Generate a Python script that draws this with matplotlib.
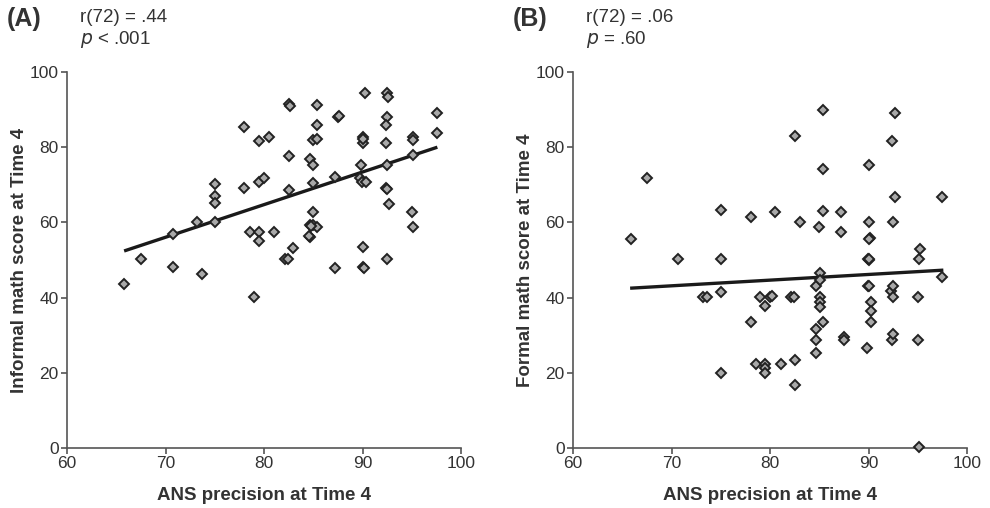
import numpy as np
import matplotlib.pyplot as plt

plt.rcParams['font.family'] = ['Liberation Sans', 'DejaVu Sans']

# ---- data ----
# (A) informal math vs ANS precision
ans_a = [65.8, 67.5, 70.8, 70.8, 73.2, 73.7, 75.0, 75.0, 75.0, 75.0,
         78.0, 78.0, 78.6, 79.0, 79.5, 79.5, 79.5, 79.5, 80.0, 80.5,
         81.0, 82.5, 82.5, 82.5, 82.9, 82.1, 82.4, 84.7, 85.0, 85.4,
         85.4, 85.0, 85.4, 85.0, 85.0, 84.7, 85.0, 85.4, 84.7, 84.6,
         87.5, 87.6, 87.2, 87.2, 89.8, 89.7, 89.9, 90.4, 90.0, 90.0,
         90.3, 90.0, 90.0, 90.2, 92.5, 92.6, 92.5, 92.4, 92.4, 92.5,
         92.4, 92.5, 92.7, 92.5, 95.1, 95.1, 95.1, 95.0, 95.1, 97.6,
         97.6, 84.8, 90.1, 82.6]
informal = [43.6, 50.3, 56.9, 48.1, 60.1, 46.3, 70.2, 67.0, 65.2, 60.1,
            85.4, 69.1, 57.4, 40.2, 81.6, 70.7, 57.4, 55.1, 71.8, 82.7,
            57.4, 91.5, 77.7, 68.6, 53.2, 50.3, 50.3, 76.9, 75.3, 91.2,
            85.9, 81.9, 82.2, 70.5, 62.8, 59.3, 59.3, 58.8, 56.1, 56.3,
            88.0, 88.2, 72.1, 47.9, 75.3, 71.8, 70.7, 70.7, 82.7, 81.1,
            94.4, 53.5, 48.1, 47.9, 94.4, 93.4, 88.0, 85.9, 81.1, 75.3,
            69.1, 68.9, 64.9, 50.3, 82.7, 81.9, 77.9, 62.8, 58.8, 89.1,
            83.8, 59.0, 82.2, 91.0]
fit_a_x = [65.8, 97.6]
fit_a_y = [52.4, 80.0]

# (B) formal math vs ANS precision
ans_b = [65.9, 67.5, 70.7, 73.2, 73.6, 75.0, 75.0, 75.0, 75.0, 78.1,
         78.1, 78.6, 79.0, 79.5, 79.5, 79.5, 79.5, 80.0, 80.5, 81.1,
         82.1, 82.4, 82.5, 82.5, 82.5, 83.0, 84.7, 84.7, 84.7, 84.7,
         85.0, 85.1, 85.1, 85.1, 85.1, 85.1, 85.4, 85.4, 85.4, 85.4,
         87.2, 87.2, 87.5, 87.5, 89.8, 89.9, 90.0, 89.9, 90.0, 90.1,
         90.1, 90.2, 90.1, 90.3, 90.3, 90.3, 92.3, 92.4, 92.4, 92.5,
         92.5, 92.5, 92.5, 92.7, 92.7, 95.0, 95.0, 95.1, 95.1, 95.2,
         97.5, 97.5, 80.2, 90.0]
formal = [55.6, 71.7, 50.2, 40.2, 40.2, 63.3, 50.2, 41.4, 20.0, 61.5,
          33.6, 22.3, 40.2, 37.8, 22.3, 21.2, 20.0, 40.2, 62.7, 22.3,
          40.2, 40.2, 83.0, 23.4, 16.8, 60.2, 43.1, 31.6, 28.7, 25.2,
          58.9, 46.5, 44.7, 40.2, 38.9, 37.6, 89.9, 74.1, 63.1, 33.6,
          62.7, 57.4, 29.4, 28.7, 26.5, 50.2, 50.0, 43.1, 43.0, 75.2,
          60.2, 55.8, 55.6, 38.9, 36.4, 33.4, 41.8, 81.7, 28.7, 60.2,
          43.1, 40.2, 30.3, 89.2, 66.8, 40.2, 28.7, 50.2, 0.2, 52.9,
          66.8, 45.6, 40.4, 50.3]
fit_b_x = [65.8, 97.6]
fit_b_y = [42.5, 47.3]

panels = [
    ("(A)", "r(72) = .44", "<", ".001", "Informal math score at Time 4",
     ans_a, informal, fit_a_x, fit_a_y),
    ("(B)", "r(72) = .06", "=", ".60", "Formal math score at Time 4",
     ans_b, formal, fit_b_x, fit_b_y),
]

W, H = 990, 508
fig = plt.figure(figsize=(W / 100, H / 100), dpi=100)

axis_col = '#555555'
text_col = '#333333'
lefts = [67, 573]

for (tag, rtxt, op, pval, ylab, xs, ys, fx, fy), lx in zip(panels, lefts):
    ax = fig.add_axes([lx / W, 1 - 448 / H, 394 / W, 376 / H])
    ax.plot(fx, fy, color='#1a1a1a', lw=2.4, solid_capstyle='butt', zorder=2)
    ax.plot(xs, ys, linestyle='none', marker='D', ms=5.5, mfc='#a9a9a9',
            mec='#222222', mew=1.4, zorder=3, clip_on=False)
    ax.set_xlim(60, 100)
    ax.set_ylim(0, 100)
    ax.set_xticks(np.arange(60, 101, 10))
    ax.set_yticks(np.arange(0, 101, 20))
    for s in ['top', 'right']:
        ax.spines[s].set_visible(False)
    for s in ['left', 'bottom']:
        ax.spines[s].set_color(axis_col)
        ax.spines[s].set_linewidth(1.2)
    ax.tick_params(direction='out', length=4, width=1.2, color=axis_col,
                   labelsize=12.5, labelcolor=text_col, pad=2)
    ax.set_xlabel("ANS precision at Time 4", fontsize=13.5, fontweight='bold',
                  color=text_col, labelpad=11)
    ax.set_ylabel(ylab, fontsize=13.5, fontweight='bold', color=text_col,
                  labelpad=1)

    fig.text((lx - 60) / W, 1 - 19 / H, tag, fontsize=18, fontweight='bold',
             color=text_col, va='center', ha='left')
    fig.text((lx + 13) / W, 1 - 17 / H, rtxt, fontsize=13.5, color=text_col,
             va='center', ha='left')
    fig.text((lx + 13) / W, 1 - 40 / H, f"$p$ {op} {pval}", fontsize=13.5,
             color=text_col, va='center', ha='left')

fig.savefig("out.png", dpi=100)
